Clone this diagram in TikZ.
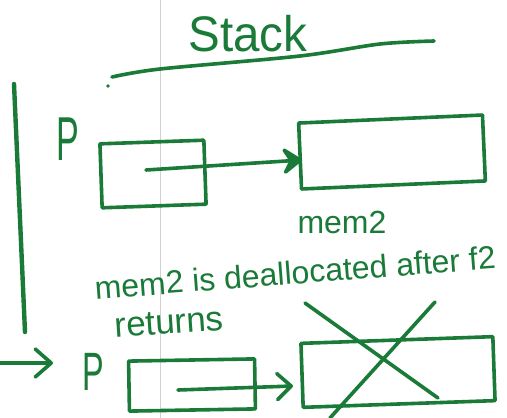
\documentclass[tikz,border=0pt]{standalone}
\usepackage{fontspec}
\setmainfont{Liberation Sans}
\usetikzlibrary{arrows.meta}
\definecolor{ink}{RGB}{26,122,56}
\begin{document}
\begin{tikzpicture}[x=1pt,y=1pt,
  pen/.style={draw=ink, line width=3.6pt, line cap=round, line join=round},
  cellbox/.style={pen, rectangle, inner sep=0pt},
  label/.style={text=ink, inner sep=0pt},
  headtip/.style={-{Stealth[length=24pt,width=34pt,inset=10pt,round]}},
  barbtip/.style={-{Straight Barb[length=14pt,width=26pt,round]}}]
\useasboundingbox (0,0) rectangle (507,-418);
\fill[white] (0,0) rectangle (507,-418);
% faint margin line
\draw[gray!35, line width=0.8pt] (160,0) -- (160,-418);
% title
\node[label, font=\fontsize{50}{50}\selectfont, xscale=0.95] (title) at (248,-34) {Stack};
\draw[pen] plot[smooth] coordinates {(112,-77) (160,-69) (300,-56) (380,-44) (434,-41)};
\fill[ink] (108,-86) circle (1.8pt);
% time line
\coordinate (t0) at (14,-84);
\coordinate (t1) at (25,-332);
\draw[pen, line width=4.4pt] (t0) -- (t1);
% upper frame
\node[label, font=\fontsize{62}{62}\selectfont, xscale=0.55] (p1) at (68,-139) {P};
\node[cellbox, minimum width=104pt, minimum height=64pt, rotate=2] (b1) at (153,-174) {};
\node[cellbox, minimum width=184pt, minimum height=66pt, rotate=2.5] (b2) at (392,-152) {};
\coordinate (s1) at (146,-170);
\coordinate (e1) at (302,-160);
\draw[pen, headtip] (s1) -- (e1);
\node[label, font=\fontsize{32}{32}\selectfont] (m2) at (342,-222) {mem2};
\node[label, font=\fontsize{32}{32}\selectfont, rotate=4.4, anchor=base] (note1) at (296,-284) {mem2 is deallocated after f2};
\node[label, font=\fontsize{35}{35}\selectfont, rotate=4, anchor=base] (note2) at (170,-334) {returns};
% lower frame
\coordinate (a0) at (0,-363);
\coordinate (a1) at (53,-363);
\draw[pen, -{Straight Barb[length=16pt,width=28pt,round]}] (a0) -- (a1);
\node[label, font=\fontsize{54}{54}\selectfont, xscale=0.6] (p2) at (93,-372) {P};
\node[cellbox, minimum width=126pt, minimum height=50pt, rotate=1] (b3) at (192,-385) {};
\node[cellbox, minimum width=192pt, minimum height=64pt, rotate=2] (b4) at (398,-372) {};
\coordinate (s2) at (178,-390);
\coordinate (e2) at (293,-386);
\draw[pen, barbtip] (s2) -- (e2);
% cross-out
\coordinate (x1) at (305,-303);
\coordinate (x2) at (438,-398);
\coordinate (x3) at (435,-302);
\coordinate (x4) at (330,-418);
\draw[pen] (x1) -- (x2);
\draw[pen] (x3) -- (x4);
\end{tikzpicture}
\end{document}
